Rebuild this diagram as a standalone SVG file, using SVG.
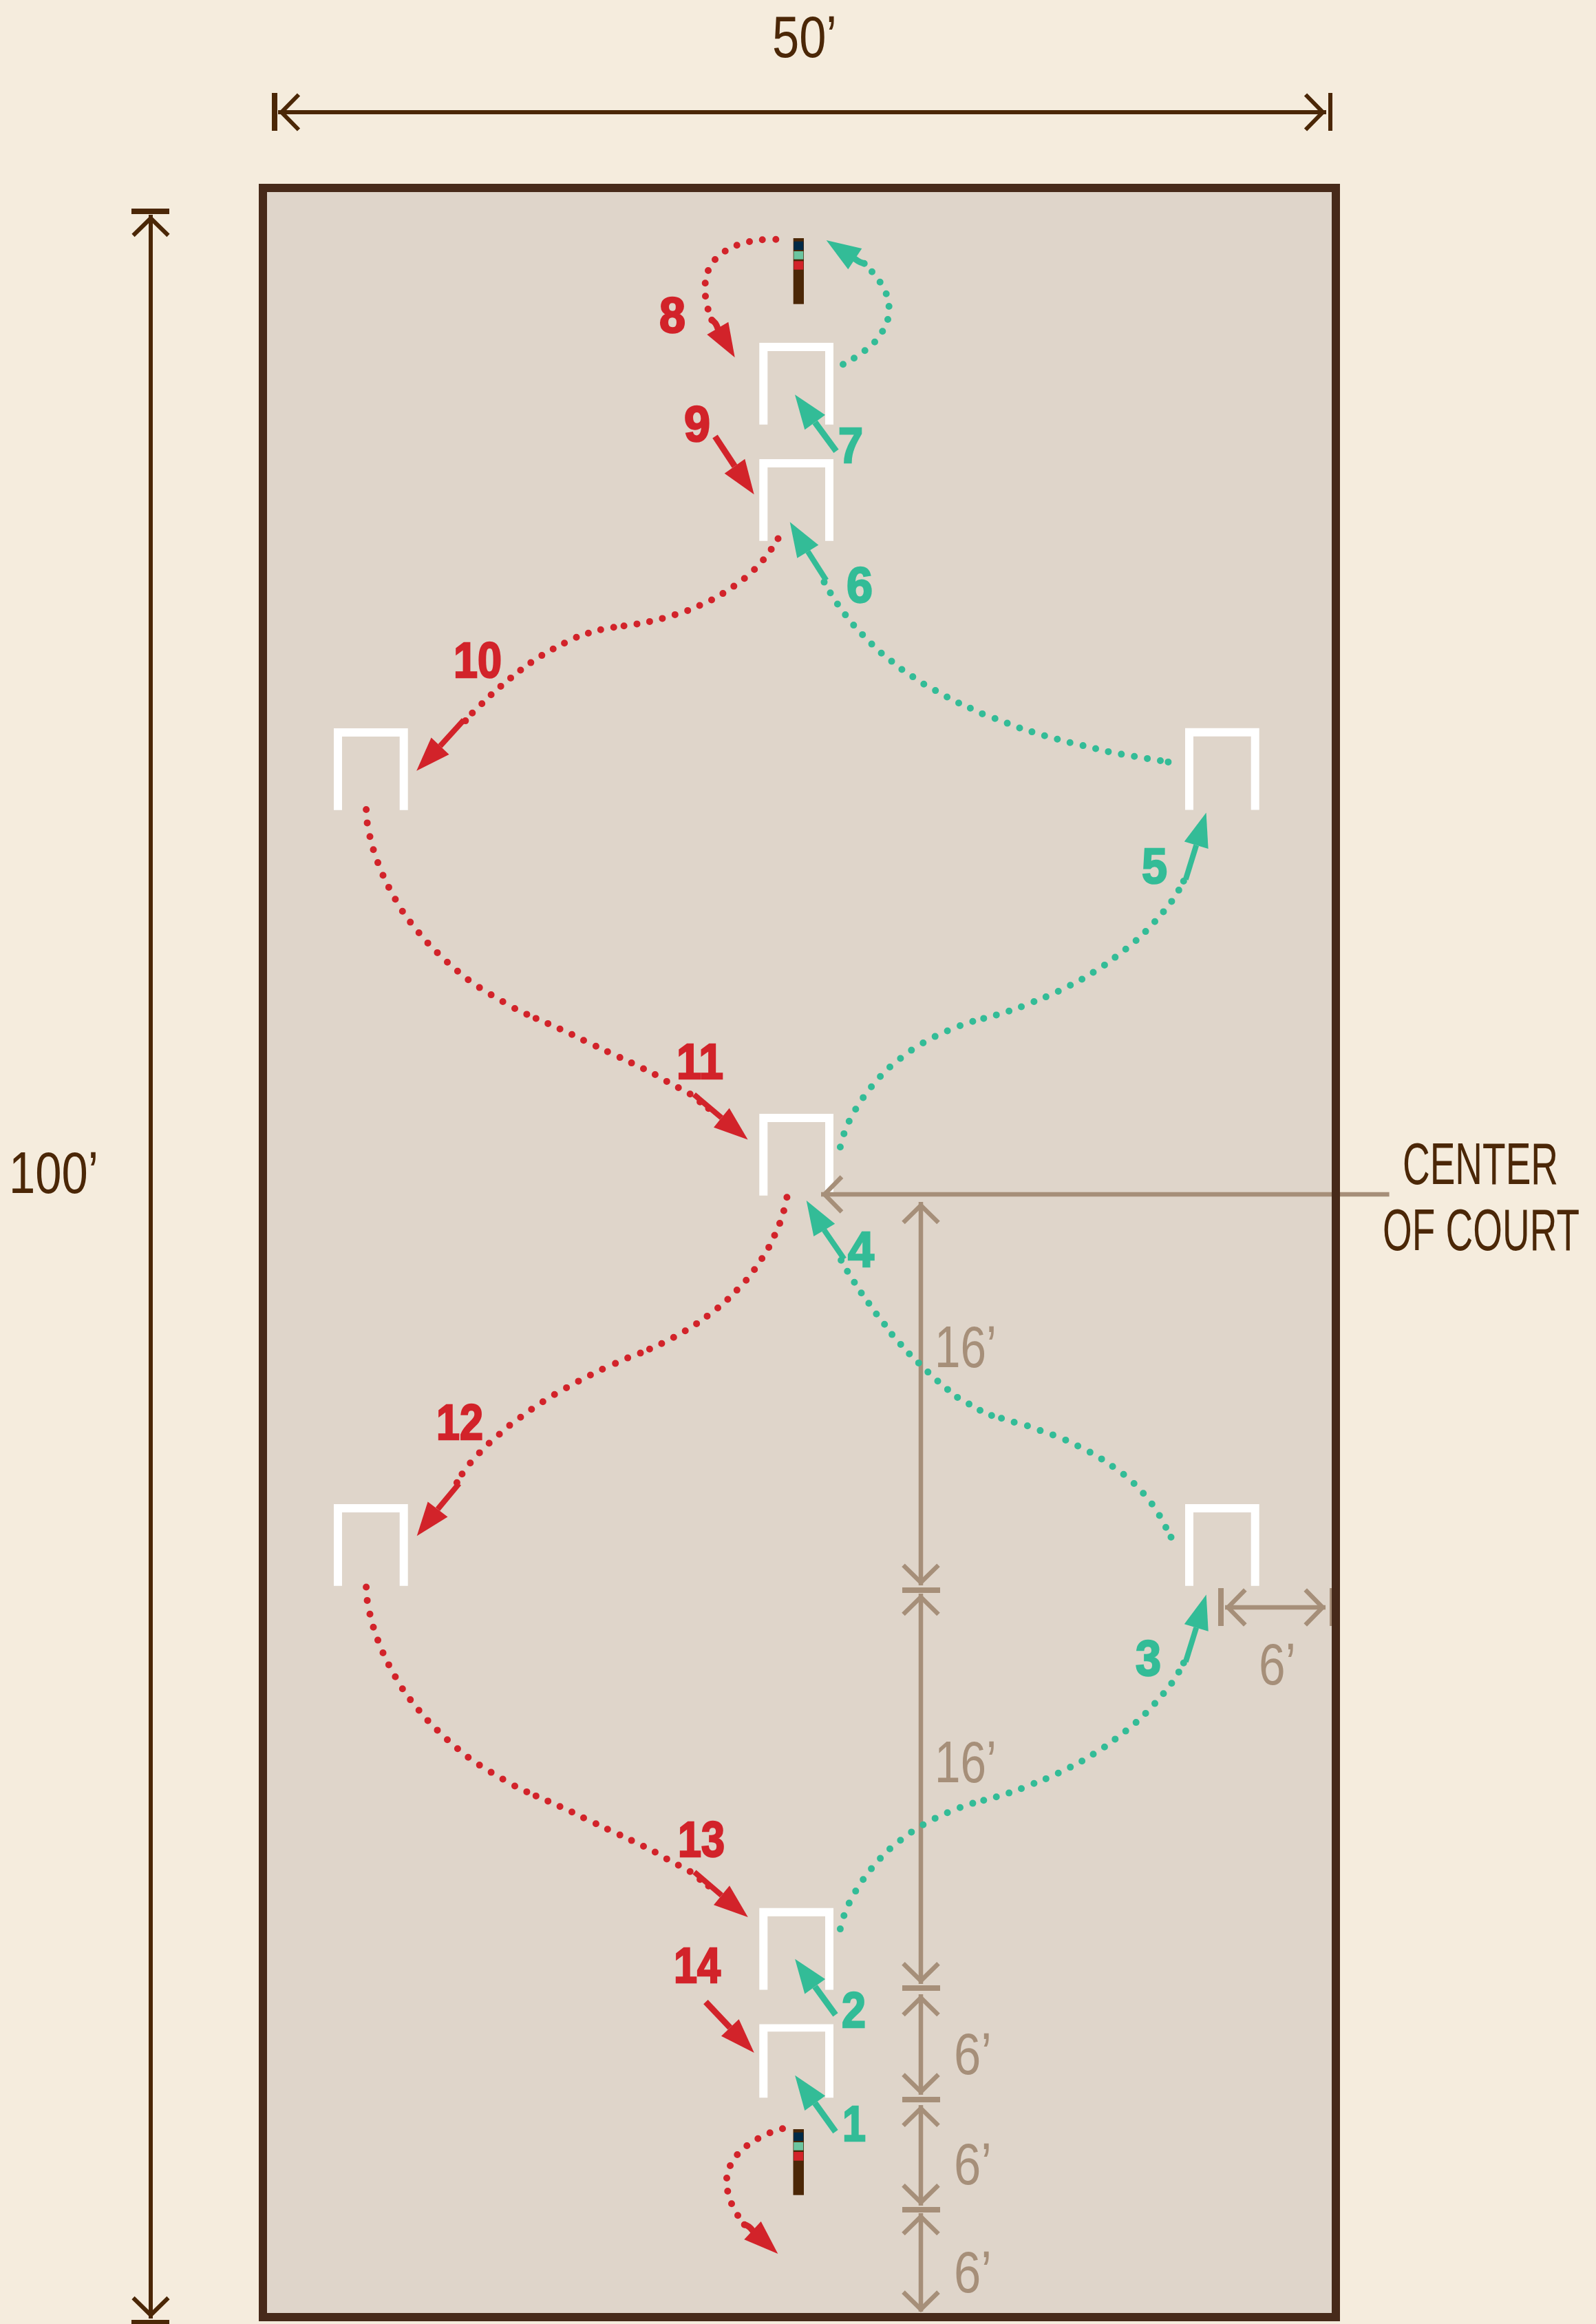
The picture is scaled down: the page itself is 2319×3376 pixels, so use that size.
<svg xmlns="http://www.w3.org/2000/svg" xmlns:xlink="http://www.w3.org/1999/xlink" width="2319" height="3376" viewBox="0 0 2319 3376">
<style>
.wk{fill:none;stroke:#fff;stroke-width:12}
.tan{fill:none;stroke:#a68f79;stroke-width:6.5}
.tanf{fill:#a68f79}
.drk{fill:none;stroke:#4b2707;stroke-width:6}
.drkf{fill:#4b2707}
.dr{fill:none;stroke:#d2232a;stroke-width:10;stroke-linecap:round}
.dg{fill:none;stroke:#33bc97;stroke-width:10;stroke-linecap:round}
.sr{fill:none;stroke:#d2232a;stroke-width:9}
.sg{fill:none;stroke:#33bc97;stroke-width:9}
.hr{fill:#d2232a}
.hg{fill:#33bc97}
.nr,.ng{font-family:"Liberation Sans",Arial,sans-serif;font-weight:700;font-size:73px;stroke-width:2.5;stroke-linejoin:miter}
.nr{fill:#d2232a;stroke:#d2232a}
.ng{fill:#33bc97;stroke:#33bc97}
.lab{font-family:"Liberation Sans Narrow","Liberation Sans",Arial,sans-serif;font-size:86px}
.ld{fill:#4b2707}
.lt{fill:#a68f79}
</style>
<defs>
<path id="chev" d="M-25.5 30L0 5L25.5 30"/>
<path id="wicket" d="M6 118.7V6H101.7V118.7"/>
<path id="curveA" d="M532.1 1176h.01M533.6 1195.4h.01M537.5 1215.3h.01M542.5 1234.2h.01M549 1253.1h.01M556.5 1271.5h.01M564.9 1288.9h.01M574.4 1306.3h.01M584.8 1323.7h.01M596.2 1339.6h.01M608.7 1355h.01M621.6 1369.9h.01M635.5 1383.9h.01M650 1397.8h.01M664.9 1410.8h.01M680.3 1423.2h.01M696.7 1434.6h.01M713.6 1445.1h.01M730.6 1455h.01M748 1465h.01M765.4 1473.4h.01M778.8 1479.4h.01M796.2 1486.9h.01M813.6 1494.8h.01M831 1502.8h.01M848 1511.2h.01M865.9 1519.7h.01M882.8 1527.7h.01M900.7 1536.1h.01M917.6 1544.1h.01M935 1552.5h.01M951.9 1561h.01M968.8 1570.9h.01M985.7 1580h.01M1002.7 1589.3h.01M1017.1 1600.7h.01M1029.5 1610.3h.01"/>
<path id="curveG" d="M1220.9 1666.3h.01M1226.3 1646.9h.01M1233.8 1628.8h.01M1243.3 1611.3h.01M1254.2 1594.4h.01M1266.1 1578.8h.01M1279.1 1563.8h.01M1293 1550h.01M1308.4 1537.5h.01M1324.3 1525.6h.01M1341.3 1515h.01M1358.7 1505.6h.01M1376.6 1497.5h.01M1395 1490h.01M1413.4 1483.8h.01M1429.3 1479.4h.01M1447.7 1474.4h.01M1466.1 1468.8h.01M1484 1462.5h.01M1502.4 1455h.01M1519.8 1448.1h.01M1537.7 1440h.01M1555.2 1431.3h.01M1572.1 1422.5h.01M1588.5 1412.5h.01M1604.9 1401.9h.01M1620.3 1390.6h.01M1635.7 1378.8h.01M1650.7 1366.3h.01M1664.6 1353.1h.01M1678 1338.8h.01M1690.5 1324.4h.01M1702.4 1309.4h.01M1712.8 1293.1h.01M1719.8 1280h.01"/>
</defs>
<rect id="background" width="2319" height="3376" fill="#f5ecdd"/>
<rect id="court-fill" x="382" y="273" width="1559" height="3093" fill="#dfd5ca"/>

<g id="wicket-1"><use href="#wicket" class="wk" transform="translate(1103.3,2940.5) scale(1,.9)"/></g>
<g id="wicket-2"><use href="#wicket" class="wk" transform="translate(1103.3,2771.8)"/></g>
<g id="wicket-3"><use href="#wicket" class="wk" transform="translate(1722,2185)"/></g>
<g id="wicket-4"><use href="#wicket" class="wk" transform="translate(1103.3,1618)"/></g>
<g id="wicket-5"><use href="#wicket" class="wk" transform="translate(1722,1057.7)"/></g>
<g id="wicket-6"><use href="#wicket" class="wk" transform="translate(1103.3,667)"/></g>
<g id="wicket-7"><use href="#wicket" class="wk" transform="translate(1103.3,498)"/></g>
<g id="wicket-8"><use href="#wicket" class="wk" transform="translate(485,1058)"/></g>
<g id="wicket-9"><use href="#wicket" class="wk" transform="translate(485,2185)"/></g>

<g id="stake-top">
<rect x="1152.7" y="346" width="15.3" height="95.7" fill="#4b2707"/>
<rect x="1153.4" y="350.7" width="13.9" height="12.4" fill="#002a47"/>
<rect x="1153.4" y="365" width="13.9" height="11.7" fill="#6cc5a0"/>
<rect x="1153.4" y="379.3" width="13.9" height="12.4" fill="#d2232a"/>
</g>
<g id="stake-bottom">
<rect x="1152.5" y="3093" width="15.5" height="95.7" fill="#4b2707"/>
<rect x="1153.2" y="3097.7" width="14" height="12.3" fill="#002a47"/>
<rect x="1153.2" y="3112" width="14" height="11.7" fill="#6cc5a0"/>
<rect x="1153.2" y="3126" width="14" height="12.7" fill="#d2232a"/>
</g>

<g id="dimensions">
<g class="drk">
<path d="M404 163H1927M219 312V3368"/>
<use href="#chev" transform="translate(404,163) rotate(-90)"/>
<use href="#chev" transform="translate(1927,163) rotate(90)"/>
<use href="#chev" transform="translate(219,312)"/>
<use href="#chev" transform="translate(219,3368) rotate(180)"/>
</g>
<rect class="drkf" x="395" y="135" width="8" height="55"/>
<rect class="drkf" x="1930" y="135" width="6" height="55"/>
<rect class="drkf" x="191" y="303" width="55" height="8"/>
<rect class="drkf" x="191" y="3370" width="55" height="6"/>
<g class="tan">
<path d="M1338 1746V2303M1338 2315V2882M1338 2897V3043M1338 3058V3204M1338 3215V3358M1193 1735H2018.6M1780 2335H1926"/>
<use href="#chev" transform="translate(1338,1746)"/>
<use href="#chev" transform="translate(1338,2303.7) rotate(180)"/>
<use href="#chev" transform="translate(1338,2315)"/>
<use href="#chev" transform="translate(1338,2882.4) rotate(180)"/>
<use href="#chev" transform="translate(1338,2897)"/>
<use href="#chev" transform="translate(1338,3043.6) rotate(180)"/>
<use href="#chev" transform="translate(1338,3057.8)"/>
<use href="#chev" transform="translate(1338,3204.4) rotate(180)"/>
<use href="#chev" transform="translate(1338,3215)"/>
<use href="#chev" transform="translate(1338,3359.6) rotate(180)"/>
<use href="#chev" transform="translate(1193,1735) rotate(-90)"/>
<use href="#chev" transform="translate(1779.3,2335) rotate(-90)"/>
<use href="#chev" transform="translate(1926.7,2335) rotate(90)"/>
</g>
<rect class="tanf" x="1311" y="2306" width="55" height="8"/>
<rect class="tanf" x="1311" y="2884" width="55" height="8"/>
<rect class="tanf" x="1311" y="3046" width="55" height="8"/>
<rect class="tanf" x="1311" y="3206" width="55" height="8"/>
<rect class="tanf" x="1770" y="2307" width="8" height="55"/>
<rect class="tanf" x="1932" y="2307" width="8" height="55"/>
</g>
<rect id="court-border" x="382" y="273" width="1559" height="3093" fill="none" stroke="#472a1a" stroke-width="12"/>

<g id="connectors">
<path class="dr" d="M1137 3092.3h.01M1118.7 3098.3h.01M1101.3 3106.7h.01M1085.3 3117h.01M1071.3 3130h.01M1061 3146h.01M1056 3164h.01M1057.3 3183h.01M1063 3201.3h.01M1072 3218.3h.01M1081.7 3231.7h.01"/>
<path class="sr" stroke-linecap="round" d="M1081.7 3231.7Q1088 3233 1093.5 3240.2"/>
<polygon class="hr" points="1130.3,3274 1105.7,3227 1081.3,3253.3"/>

<path class="sg" d="M1214 3096.6L1184.2 3055.2"/>
<polygon class="hg" points="1155.1,3014.7 1199.1,3044.5 1169.3,3066"/>

<path class="sg" d="M1214 2926.8L1184.2 2885.8"/>
<polygon class="hg" points="1155.1,2845.7 1199.1,2875 1169.3,2896.6"/>

<use href="#curveG" class="dg" transform="translate(0,1135.8)"/>
<path class="sg" d="M1722.8 2414L1738.2 2364.4" style="stroke-width:8"/>
<polygon class="hg" points="1752.7,2316.6 1720.8,2359.2 1755.7,2369.8"/>

<path class="dg" d="M1701.5 2233h.01M1694 2218.7h.01M1684.7 2201.5h.01M1673.8 2184.8h.01M1661.2 2169.3h.01M1647.7 2155h.01M1632.6 2141.8h.01M1616.6 2130.3h.01M1600.6 2119.4h.01M1583.8 2109.6h.01M1566.1 2100.5h.01M1548.4 2091.9h.01M1529.9 2084.4h.01M1511.4 2078.1h.01M1492.9 2071.2h.01M1473.6 2066h.01M1455.1 2060.3h.01M1440.8 2056.3h.01M1424 2048.8h.01M1408 2039.6h.01M1391.2 2029.9h.01M1376.9 2018.4h.01M1362.5 2006.3h.01M1348.3 1993.1h.01M1334.8 1979.9h.01M1321.3 1966.7h.01M1308.7 1952.9h.01M1296.1 1938.6h.01M1285.2 1923.7h.01M1273.4 1908.7h.01M1262.4 1893.2h.01M1251.5 1878.3h.01M1241.4 1862.8h.01M1231.3 1846.8h.01M1222.1 1830.7h.01"/>
<path class="sg" d="M1226.5 1829L1197.5 1786.8" style="stroke-width:8"/>
<polygon class="hg" points="1171.7,1743.9 1213.2,1777.8 1182.3,1796.1"/>

<use href="#curveG" class="dg"/>
<path class="sg" d="M1722.8 1277.5L1738.2 1227.8" style="stroke-width:8"/>
<polygon class="hg" points="1752.6,1180.6 1720.8,1222.5 1755.6,1233.1"/>

<path class="dg" d="M1697.4 1106.9h.01M1686 1105h.01M1667.1 1101.9h.01M1648.2 1098.8h.01M1629.3 1095.6h.01M1610.4 1091.9h.01M1592 1087.5h.01M1573.6 1083.1h.01M1554.7 1078.8h.01M1536.3 1073.8h.01M1517.8 1068.8h.01M1499.4 1063.1h.01M1481.5 1057.5h.01M1463.6 1050.6h.01M1445.7 1043.8h.01M1427.3 1036.9h.01M1409.9 1028.8h.01M1393 1021.3h.01M1376.1 1012.5h.01M1359.2 1003.1h.01M1342.3 993.8h.01M1326.3 983.1h.01M1310.4 972.5h.01M1295.5 960.6h.01M1280.6 948.8h.01M1266.6 935.6h.01M1253.2 921.9h.01M1240.3 908.1h.01M1228.3 893.1h.01M1216.9 877.5h.01M1206.5 861.3h.01M1197.5 845.6h.01"/>
<path class="sg" d="M1200.5 843L1173.8 801.2" style="stroke-width:8"/>
<polygon class="hg" points="1147.7,758.3 1189.3,791.7 1158.3,810.7"/>

<path class="sg" d="M1215 655.3L1184.2 613.5"/>
<polygon class="hg" points="1155,573.3 1199,602.7 1169.3,624.3"/>

<path class="dg" d="M1225 529.3h.01M1241 520.3h.01M1256.7 509.3h.01M1271 496.7h.01M1282.3 481.3h.01M1290 464h.01M1291.7 445h.01M1287.7 426.7h.01M1278.7 409.7h.01M1267 394.7h.01M1255.7 382.7h.01"/>
<path class="sg" stroke-linecap="round" d="M1255.7 382.7Q1250 382 1242.3 376.2"/>
<polygon class="hg" points="1200.7,349 1252.3,361 1232.3,391.3"/>

<path class="dr" d="M1127.3 347.7h.01M1107.7 348.3h.01M1089 351h.01M1070.7 356.3h.01M1053.7 364.7h.01M1039 377h.01M1029 393h.01M1024.7 411.3h.01M1025 430.3h.01M1028.7 449h.01M1034.3 465h.01"/>
<path class="sr" stroke-linecap="round" d="M1034.3 465Q1040 468 1042.8 476.8"/>
<polygon class="hr" points="1067.7,519.3 1058.3,467.7 1027.3,486"/>

<path class="sr" d="M1039 634L1067.5 677.2"/>
<polygon class="hr" points="1095.7,718.3 1082.3,666.7 1052.7,687.7"/>

<path class="dr" d="M1130.5 782.5h.01M1120.6 797.9h.01M1109.1 813.3h.01M1096.2 827.3h.01M1081.7 840.2h.01M1066.3 851.6h.01M1050.4 862.1h.01M1034 871.5h.01M1016.6 879.5h.01M999.2 886.9h.01M980.8 892.9h.01M962.4 898.4h.01M943.9 902.9h.01M925.5 906.4h.01M906.6 909.3h.01M891.7 911.3h.01M872.8 914.8h.01M854.9 919.8h.01M837.5 925.8h.01M820.1 934.2h.01M803.7 942.7h.01M787.3 952.1h.01M771.3 962.6h.01M756.4 973.5h.01M742 984.9h.01M727.6 996.9h.01M713.6 1009.3h.01M700.2 1022.3h.01M686.3 1035.7h.01M676.3 1047.1h.01"/>
<path class="sr" d="M673.8 1046L639.5 1083.7" style="stroke-width:8"/>
<polygon class="hr" points="605.2,1119.8 626.6,1071.5 652.5,1095.9"/>

<use href="#curveA" class="dr"/>
<path class="sr" d="M1008.4 1590L1048.4 1623.7" style="stroke-width:8"/>
<polygon class="hr" points="1086.6,1655.6 1059.7,1609.7 1037,1637.8"/>

<path class="dr" d="M1143.4 1739.3h.01M1138.9 1758.7h.01M1133 1777.1h.01M1125.5 1794.5h.01M1117.1 1811.9h.01M1107.1 1828.3h.01M1096.2 1844.3h.01M1084.2 1859.7h.01M1070.8 1874.1h.01M1057.4 1887.5h.01M1043 1900h.01M1027.5 1911.9h.01M1012.1 1922.9h.01M995.7 1933.3h.01M978.8 1942.7h.01M961.4 1951.7h.01M943.9 1959.7h.01M930.5 1965.6h.01M912.1 1972.6h.01M894.2 1980.6h.01M875.3 1989h.01M857.9 1997.5h.01M840.5 2006.4h.01M823.1 2015.9h.01M805.7 2025.8h.01M788.8 2036.3h.01M772.3 2047.2h.01M756.4 2058.7h.01M740.5 2070.6h.01M725.6 2083.5h.01M710.7 2096.5h.01M696.7 2110.4h.01M683.3 2125.3h.01M671.4 2141.2h.01M663.9 2153.7h.01"/>
<path class="sr" d="M666.9 2155.2L636 2192.4" style="stroke-width:8"/>
<polygon class="hr" points="605.7,2231.3 621.6,2181.5 650.5,2203.4"/>

<use href="#curveA" class="dr" transform="translate(0,1129.5)"/>
<path class="sr" d="M1009 2719.5L1048.4 2753.2" style="stroke-width:8"/>
<polygon class="hr" points="1086.8,2785.1 1060,2739.2 1037,2767.3"/>

<path class="sr" d="M1025.4 2908.2L1060.8 2945.5"/>
<polygon class="hr" points="1095.8,2982 1073.6,2933.2 1048,2957.8"/>
</g>

<g id="step-numbers">
<text class="ng" x="1224" y="3109.7" textLength="34" lengthAdjust="spacingAndGlyphs">1</text>
<text class="ng" x="1223" y="2944.5" textLength="35" lengthAdjust="spacingAndGlyphs">2</text>
<text class="ng" x="1650" y="2434" textLength="37" lengthAdjust="spacingAndGlyphs">3</text>
<text class="ng" x="1232" y="1840" textLength="38" lengthAdjust="spacingAndGlyphs">4</text>
<text class="ng" x="1659" y="1282.5" textLength="37" lengthAdjust="spacingAndGlyphs">5</text>
<text class="ng" x="1230" y="874.6" textLength="38" lengthAdjust="spacingAndGlyphs">6</text>
<text class="ng" x="1218" y="672" textLength="36" lengthAdjust="spacingAndGlyphs">7</text>
<text class="nr" x="958" y="483" textLength="38" lengthAdjust="spacingAndGlyphs">8</text>
<text class="nr" x="994" y="640.5" textLength="38" lengthAdjust="spacingAndGlyphs">9</text>
<text class="nr" x="659" y="984" textLength="70" lengthAdjust="spacingAndGlyphs">10</text>
<text class="nr" x="983" y="1567" textLength="68" lengthAdjust="spacingAndGlyphs">11</text>
<text class="nr" x="634" y="2091" textLength="68" lengthAdjust="spacingAndGlyphs">12</text>
<text class="nr" x="985" y="2696.7" textLength="68" lengthAdjust="spacingAndGlyphs">13</text>
<text class="nr" x="979" y="2880" textLength="68" lengthAdjust="spacingAndGlyphs">14</text>
</g>

<g id="dimension-labels">
<text class="lab ld" x="1122" y="83" textLength="94" lengthAdjust="spacingAndGlyphs">50’</text>
<text class="lab ld" x="13" y="1733" textLength="130" lengthAdjust="spacingAndGlyphs">100’</text>
<text class="lab ld" x="2038" y="1720" textLength="226" lengthAdjust="spacingAndGlyphs">CENTER</text>
<text class="lab ld" x="2009" y="1816" textLength="286" lengthAdjust="spacingAndGlyphs">OF COURT</text>
<text class="lab lt" x="1358" y="1986" textLength="90" lengthAdjust="spacingAndGlyphs">16’</text>
<text class="lab lt" x="1358" y="2589" textLength="90" lengthAdjust="spacingAndGlyphs">16’</text>
<text class="lab lt" x="1829" y="2447" textLength="54" lengthAdjust="spacingAndGlyphs">6’</text>
<text class="lab lt" x="1386" y="3012.6" textLength="55" lengthAdjust="spacingAndGlyphs">6’</text>
<text class="lab lt" x="1386" y="3173" textLength="55" lengthAdjust="spacingAndGlyphs">6’</text>
<text class="lab lt" x="1386" y="3330.3" textLength="55" lengthAdjust="spacingAndGlyphs">6’</text>
</g>
</svg>
